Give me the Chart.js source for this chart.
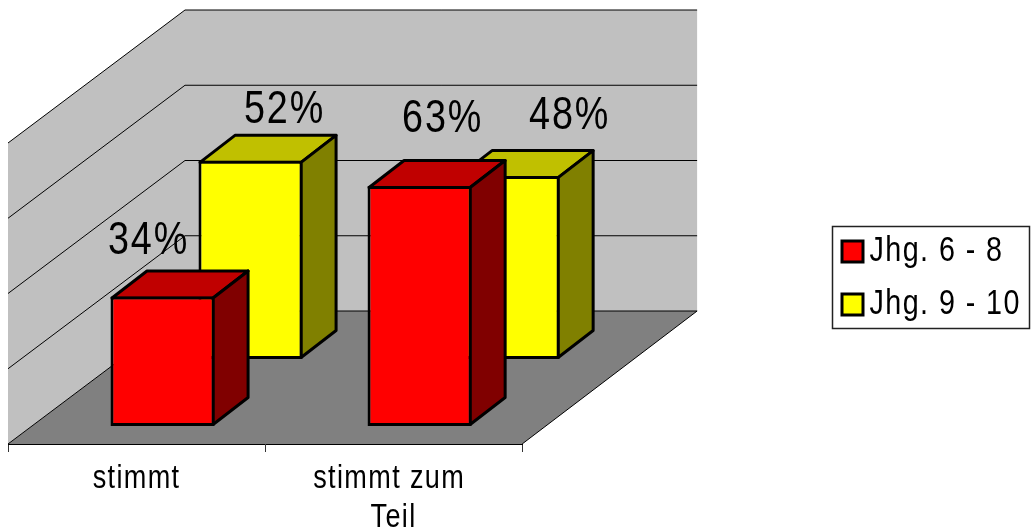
<!DOCTYPE html>
<html>
<head>
<meta charset="utf-8">
<style>
    html, body { margin: 0; padding: 0; background: #fff; }
    #wrap { position: relative; width: 1032px; height: 532px; }
</style>
<script src="https://cdn.jsdelivr.net/npm/chart.js@4"></script>
</head>
<body>
<div id="wrap"><canvas id="chart"></canvas></div>
<script>
// Chart data
const categories = ['stimmt', ['stimmt zum ', 'Teil']];
const seriesNames = ['Jhg. 6 - 8', 'Jhg. 9 - 10'];
const values6to8 = [34, 63];
const values9to10 = [52, 48];

// 3D look: the chart area is the front plane, the rest is sheared back from it
const FONT = "'Liberation Sans', Arial, sans-serif";
const TEXT_SQUEEZE = 0.82; // reference text is narrower than Liberation Sans
const LEGEND_TEXT_PULL = 11; // Chart.js leaves half a font size after the box, the reference much less
const floorDepth = { dx: 177, dy: -133 };
const backWallInset = 2; // back wall is a touch narrower than the front edge
const barDepth = { dx: 35, dy: -27 };
const seriesShift = [{ dx: 26, dy: -18 }, { dx: 114, dy: -85 }];
const faceColors = [
    { top: '#c00000', side: '#800000' },
    { top: '#c0c000', side: '#808000' }
];
// label position relative to the top centre of each bar's front face
const labelNudge = [
    [{ dx: -14, dy: -42 }, { dx: 23, dy: -54 }],
    [{ dx: 34, dy: -38 }, { dx: 62, dy: -47 }]
];

function poly(ctx, pts, fill, stroke, width) {
    ctx.beginPath();
    pts.forEach((p, i) => i ? ctx.lineTo(p[0], p[1]) : ctx.moveTo(p[0], p[1]));
    ctx.closePath();
    if (fill) {
        ctx.fillStyle = fill;
        ctx.fill();
    }
    if (stroke) {
        ctx.strokeStyle = stroke;
        ctx.lineWidth = width;
        ctx.lineJoin = 'round';
        ctx.stroke();
    }
}

function line(ctx, x1, y1, x2, y2) {
    ctx.beginPath();
    ctx.moveTo(x1, y1);
    ctx.lineTo(x2, y2);
    ctx.strokeStyle = '#000';
    ctx.lineWidth = 1;
    ctx.stroke();
}

const box3d = {
    id: 'box3d',
    // the legend sits in a frame away from the plot, so move it once laid out
    afterLayout(chart) {
        const lg = chart.legend;
        const h = lg.bottom - lg.top;
        lg.left = 824;
        lg.right = 1030;
        lg.top = 216;
        lg.bottom = lg.top + h;
    },
    beforeDraw(chart) {
        // squeeze every label horizontally, text stays anchored where Chart.js puts it
        const ctx = chart.ctx;
        if (ctx.squeezed) return;
        ctx.squeezed = true;
        const fill = ctx.fillText.bind(ctx);
        ctx.fillText = (text, x, y) => {
            const size = parseFloat(ctx.font);
            const pull = seriesNames.includes(text) ? LEGEND_TEXT_PULL : 0;
            ctx.save();
            ctx.letterSpacing = (size * 0.05) + 'px';
            ctx.translate(x - pull, y);
            ctx.scale(TEXT_SQUEEZE, 1);
            fill(text, 0, 0);
            ctx.restore();
        };
    },
    beforeDatasetsDraw(chart) {
        const { ctx, chartArea: a, scales: { y } } = chart;
        const { dx, dy } = floorDepth;
        const backRight = a.right + dx - backWallInset;
        ctx.save();
        // back wall, left wall, floor
        poly(ctx, [[a.left + dx, a.top + dy], [backRight, a.top + dy], [backRight, a.bottom + dy], [a.left + dx, a.bottom + dy]], '#c0c0c0');
        poly(ctx, [[a.left, a.top], [a.left + dx, a.top + dy], [a.left + dx, a.bottom + dy], [a.left, a.bottom]], '#c0c0c0');
        poly(ctx, [[a.left, a.bottom], [a.left + dx, a.bottom + dy], [backRight, a.bottom + dy], [a.right, a.bottom]], '#808080');
        // gridlines run across both walls
        y.ticks.forEach(t => {
            const py = y.getPixelForValue(t.value);
            line(ctx, a.left, py, a.left + dx, py + dy);
            line(ctx, a.left + dx, py + dy, backRight, py + dy);
        });
        line(ctx, a.right, a.bottom, backRight, a.bottom + dy);
        ctx.restore();
    },
    beforeDatasetDraw(chart, args) {
        const ctx = chart.ctx;
        const shift = seriesShift[args.index];
        const colors = faceColors[args.index];
        const { dx, dy } = barDepth;
        ctx.save();
        ctx.translate(shift.dx, shift.dy);
        args.meta.data.forEach(bar => {
            const { x, y, base, width } = bar.getProps(['x', 'y', 'base', 'width'], true);
            const l = x - width / 2 + 1.5, r = x + width / 2 - 1.5, t = y + 1.5, b = base - 1.5;
            poly(ctx, [[l, t], [l + dx, t + dy], [r + dx, t + dy], [r, t]], colors.top, '#000', 3);
            poly(ctx, [[r, t], [r + dx, t + dy], [r + dx, b + dy], [r, b]], colors.side, '#000', 3);
        });
    },
    afterDatasetDraw(chart) {
        chart.ctx.restore();
    },
    afterDatasetsDraw(chart) {
        const ctx = chart.ctx;
        ctx.save();
        ctx.fillStyle = '#000';
        ctx.font = '46px ' + FONT;
        ctx.textAlign = 'center';
        ctx.textBaseline = 'alphabetic';
        chart.data.datasets.forEach((ds, i) => {
            chart.getDatasetMeta(i).data.forEach((bar, j) => {
                const nudge = labelNudge[i][j];
                const px = bar.x + seriesShift[i].dx + nudge.dx;
                const py = bar.y + seriesShift[i].dy + nudge.dy;
                ctx.fillText(ds.data[j] + '%', px, py);
            });
        });
        ctx.restore();
    },
    afterDraw(chart) {
        const ctx = chart.ctx;
        ctx.save();
        ctx.strokeStyle = '#222';
        ctx.lineWidth = 1.5;
        ctx.strokeRect(832.5, 226.5, 197, 102);
        ctx.restore();
    }
};

new Chart(document.getElementById('chart'), {
    type: 'bar',
    data: {
        labels: categories,
        datasets: [
            { label: seriesNames[0], data: values6to8, yAxisID: 'yBars', backgroundColor: '#ff0000', borderColor: '#000', borderWidth: 3, borderSkipped: false, clip: false },
            { label: seriesNames[1], data: values9to10, yAxisID: 'yBars', backgroundColor: '#ffff00', borderColor: '#000', borderWidth: 3, borderSkipped: false, clip: false }
        ]
    },
    plugins: [box3d],
    options: {
        responsive: true,
        maintainAspectRatio: false,
        animation: false,
        layout: { padding: { left: 8, top: 143, right: 278, bottom: 0 } },
        datasets: { bar: { grouped: false, barPercentage: 0.405, categoryPercentage: 1 } },
        plugins: {
            tooltip: { enabled: false },
            legend: {
                position: 'right',
                align: 'start',
                labels: {
                    color: '#000',
                    font: { family: FONT, size: 35 },
                    boxWidth: 21,
                    boxHeight: 21,
                    padding: 18
                }
            }
        },
        scales: {
            x: {
                grid: { drawOnChartArea: false, color: '#000', tickLength: 8, tickColor: '#333' },
                border: { color: '#000' },
                ticks: { color: '#000', font: { family: FONT, size: 33, lineHeight: 1.2 }, maxRotation: 0, padding: 7 },
                afterFit(scale) { scale.height = 88; }
            },
            // walls and gridlines
            y: {
                display: false,
                min: 0,
                max: 80,
                ticks: { stepSize: 20 }
            },
            // bars stand slightly nearer the viewer, so they scale a little taller than the wall grid
            yBars: {
                display: false,
                min: 0,
                max: 79
            }
        }
    }
});
</script>
</body>
</html>
